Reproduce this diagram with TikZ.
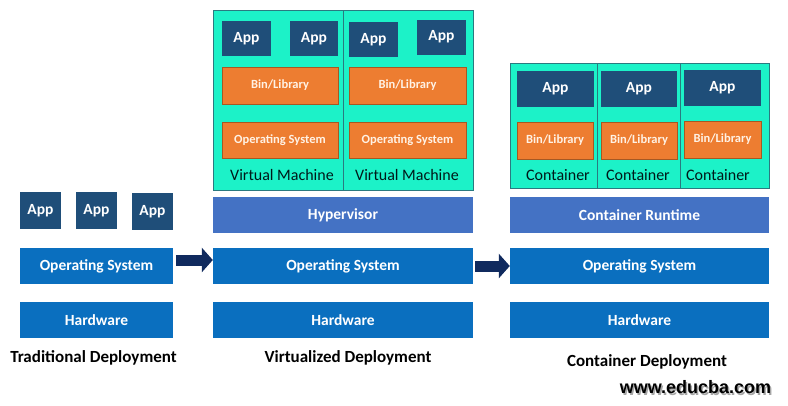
\documentclass[tikz,border=0pt]{standalone}
\usepackage{fontspec}
\setmainfont{Carlito}
\newfontfamily\webfont{Liberation Sans}
\usetikzlibrary{arrows.meta}

\definecolor{appnavy}{HTML}{1F4E79}
\definecolor{osblue}{HTML}{0A6FBF}
\definecolor{hypblue}{HTML}{4472C4}
\definecolor{binorange}{HTML}{ED7D31}
\definecolor{vmteal}{HTML}{1CF2C8}
\definecolor{tealline}{HTML}{2A7A80}
\definecolor{arrownavy}{HTML}{102A5E}

\tikzset{
  box/.style={inner sep=0pt, text=white, font=\bfseries\fontsize{15.5}{16}\selectfont},
  app/.style={box, fill=appnavy},
  layer/.style={box, fill=osblue, minimum width=#1, minimum height=36},
  binbox/.style={box, fill=binorange, draw=binorange!70!black, line width=0.4,
    text=white!90!orange, font=\bfseries\fontsize{12.5}{13}\selectfont},
  cell/.style={fill=vmteal, draw=tealline, line width=0.6, inner sep=0pt},
  cellname/.style={text=black!80!teal, font=\fontsize{16}{16}\selectfont},
  title/.style={font=\bfseries\fontsize{17}{17}\selectfont},
  fatarrow/.style={arrownavy, line width=11, -{Triangle[length=11,width=24]}}
}

\begin{document}
\begin{tikzpicture}[x=1pt,y=-1pt]

\useasboundingbox (0,0) rectangle (788,405);

% Traditional deployment
\node[app, minimum width=41, minimum height=37] (tapp1) at (40.5,210.5) {App};
\node[app, minimum width=41, minimum height=37] (tapp2) at (96.5,210.5) {App};
\node[app, minimum width=41, minimum height=37] (tapp3) at (152.5,211.5) {App};
\node[layer=153] (tos) at (96.5,266) {Operating System};
\node[layer=153] (thw) at (96.5,320) {Hardware};
\node[title] (ttitle) at (93.5,358) {Traditional Deployment};

% Virtual machines
\node[cell, minimum width=130, minimum height=180] (vm1) at (278,100) {};
\node[cell, minimum width=130, minimum height=180] (vm2) at (408,100) {};

\node[app, minimum width=49, minimum height=35] (vapp1) at (246.5,38.5) {App};
\node[app, minimum width=48, minimum height=35] (vapp2) at (314,38.5) {App};
\node[app, minimum width=49, minimum height=35] (vapp3) at (373.5,39.5) {App};
\node[app, minimum width=49, minimum height=35] (vapp4) at (441.5,37) {App};

\node[binbox, minimum width=116, minimum height=37] (vbin1) at (280,85.5) {Bin/Library};
\node[binbox, minimum width=117, minimum height=37] (vbin2) at (407.5,85.5) {Bin/Library};
\node[binbox, minimum width=116, minimum height=36] (vos1) at (280,140) {Operating System};
\node[binbox, minimum width=117, minimum height=36] (vos2) at (407.5,140) {Operating System};

\node[cellname] (vmname1) at (282,175) {Virtual Machine};
\node[cellname] (vmname2) at (407,175) {Virtual Machine};

% Virtualized deployment layers
\node[layer=260, fill=hypblue] (hyp) at (343,215) {Hypervisor};
\node[layer=260] (vos) at (343,266) {Operating System};
\node[layer=260] (vhw) at (343,320) {Hardware};
\node[title] (vtitle) at (348,358) {Virtualized Deployment};

% Containers
\node[cell, minimum width=87, minimum height=125] (ct1) at (553.5,125.5) {};
\node[cell, minimum width=83, minimum height=125] (ct2) at (638.5,125.5) {};
\node[cell, minimum width=89, minimum height=125] (ct3) at (724.5,125.5) {};

\node[app, minimum width=77, minimum height=36] (capp1) at (555.5,89) {App};
\node[app, minimum width=76, minimum height=36] (capp2) at (639,89) {App};
\node[app, minimum width=77, minimum height=36] (capp3) at (722.5,88) {App};

\node[binbox, minimum width=76, minimum height=37] (cbin1) at (555,140.5) {Bin/Library};
\node[binbox, minimum width=76, minimum height=37] (cbin2) at (639,140.5) {Bin/Library};
\node[binbox, minimum width=77, minimum height=37] (cbin3) at (722.5,139.5) {Bin/Library};

\node[cellname] (ctname1) at (558,175) {Container};
\node[cellname] (ctname2) at (638,175) {Container};
\node[cellname] (ctname3) at (718,175) {Container};

% Container deployment layers
\node[layer=259, fill=hypblue] (rt) at (639.5,215) {Container Runtime};
\node[layer=259] (cos) at (639.5,266) {Operating System};
\node[layer=259] (chw) at (639.5,320) {Hardware};
\node[title] (ctitle) at (647,362) {Container Deployment};

% Arrows
\draw[fatarrow] ([xshift=3,yshift=6]tos.east) -- ([yshift=6]vos.west);
\draw[fatarrow] ([xshift=2]vos.east) -- ([yshift=0]cos.west);

% Site mark
\node[text=black!35, font=\webfont\bfseries\fontsize{18}{18}\selectfont] (webshadow) at (697,389) {www.educba.com};
\node[font=\webfont\bfseries\fontsize{18}{18}\selectfont] (web) at (695.5,387) {www.educba.com};

\end{tikzpicture}
\end{document}
